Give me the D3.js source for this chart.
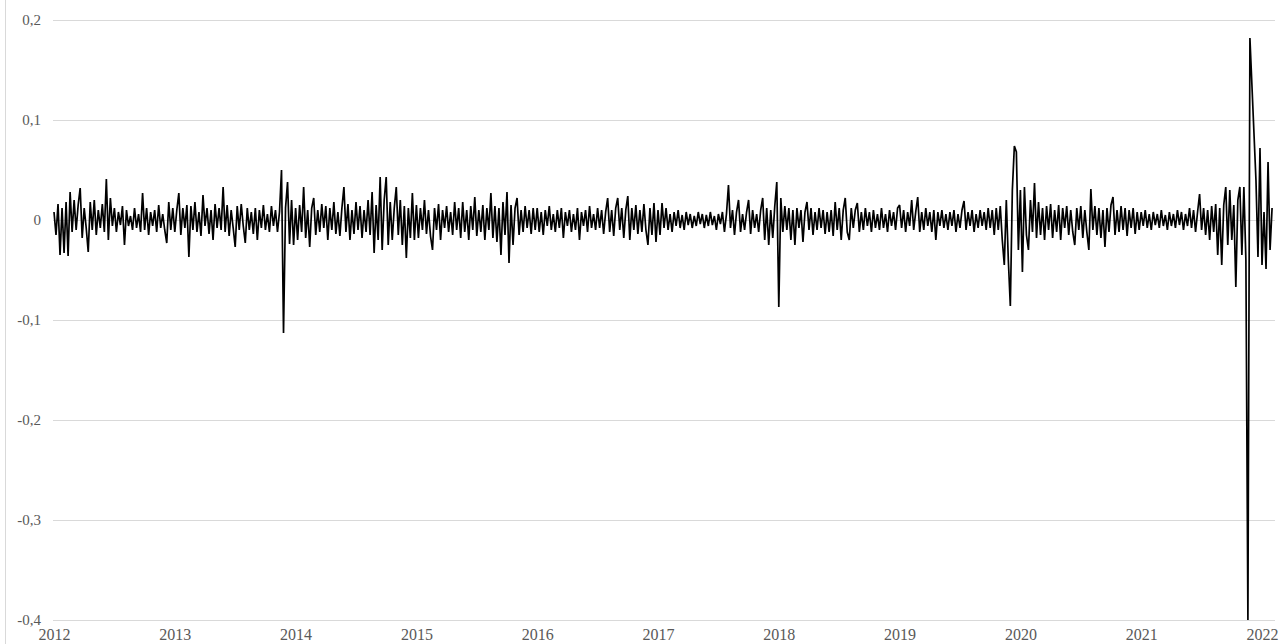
<!DOCTYPE html>
<html><head><meta charset="utf-8">
<script src="https://cdn.jsdelivr.net/npm/d3@7"></script>
<style>body{margin:0;background:#fff}svg{display:block}</style>
</head><body>
<svg id="c" width="1281" height="644"></svg>
<script>
// ---- data (daily returns) ----
const yearLabels = ["2012","2013","2014","2015","2016","2017","2018","2019","2020","2021","2022"];
const pointsPerYear = 60;
const yTicks = [0.2, 0.1, 0, -0.1, -0.2, -0.3, -0.4];

const r2012 = [0.008,-0.015,0.016,-0.035,0.012,-0.033,0.018,-0.036,0.028,-0.012,
 0.02,-0.01,0.015,0.032,-0.018,0.012,-0.008,-0.032,0.018,-0.01,
 0.02,-0.015,0.01,-0.008,0.016,-0.012,0.041,-0.02,0.022,-0.006,
 0.012,-0.012,0.008,-0.005,0.014,-0.025,0.01,-0.006,0.004,-0.01,
 0.012,-0.008,0.006,-0.012,0.027,-0.01,0.012,-0.015,0.008,-0.006,
 0.01,-0.012,0.015,-0.008,0.006,-0.01,-0.023,0.018,-0.01,0.012];
const r2013 = [-0.012,0.01,0.027,-0.015,0.012,-0.008,0.015,-0.037,0.014,-0.01,
 0.018,-0.012,0.008,-0.016,0.025,-0.006,0.012,-0.014,0.01,-0.02,
 0.016,-0.008,0.012,-0.01,0.033,-0.012,0.015,-0.016,0.01,-0.008,
 -0.027,0.014,-0.01,0.016,-0.006,-0.023,0.012,-0.01,0.008,-0.014,
 0.012,-0.02,0.01,-0.008,0.015,-0.01,0.006,-0.012,0.014,-0.006,
 0.01,-0.012,0.008,0.05,-0.113,0.012,0.038,-0.024,0.02,-0.025];
const r2014 = [0.012,-0.02,0.015,-0.012,0.033,-0.018,0.01,-0.027,0.012,0.022,
 -0.015,0.01,-0.012,0.016,-0.008,0.014,-0.02,0.012,-0.01,0.018,
 -0.014,0.008,-0.016,0.012,0.033,-0.012,0.016,-0.02,0.01,-0.014,
 0.018,-0.01,0.014,-0.018,0.01,-0.012,0.02,-0.015,0.028,-0.033,
 0.015,-0.02,0.043,-0.03,0.02,0.043,-0.025,0.018,-0.02,0.012,
 0.033,-0.015,0.02,-0.025,0.014,-0.038,0.012,-0.018,0.027,-0.02];
const r2015 = [0.015,-0.018,0.012,-0.01,0.02,-0.014,0.01,-0.016,-0.03,0.012,
 -0.01,0.016,-0.02,0.01,-0.008,0.014,-0.012,0.008,-0.015,0.018,
 -0.01,0.012,-0.018,0.018,-0.012,0.01,-0.02,0.014,-0.01,0.023,
 -0.016,0.01,-0.012,0.015,-0.02,0.012,-0.01,0.027,-0.018,0.014,
 -0.022,0.012,-0.035,0.018,-0.015,0.028,-0.043,0.015,-0.025,0.012,
 0.022,-0.015,0.01,-0.012,0.014,-0.008,0.01,-0.014,0.012,-0.01];
const r2016 = [0.012,-0.012,0.008,-0.015,0.01,-0.006,0.014,-0.01,0.006,-0.012,
 0.01,-0.008,0.012,-0.018,0.008,-0.006,0.01,-0.012,0.006,-0.01,
 0.012,-0.02,0.008,-0.006,0.01,-0.012,0.014,-0.008,0.006,-0.01,
 0.012,-0.008,0.01,-0.014,0.008,0.022,-0.012,0.01,-0.016,0.012,
 0.022,-0.01,0.012,-0.018,0.01,0.024,-0.02,0.012,-0.01,0.015,
 -0.014,0.01,-0.012,0.016,-0.01,-0.025,0.012,-0.015,0.017,-0.022];
const r2017 = [0.01,-0.015,0.017,-0.008,0.012,-0.01,0.006,-0.012,0.008,-0.006,
 0.01,-0.008,0.005,-0.01,0.008,-0.005,0.006,-0.008,0.004,-0.006,
 0.008,-0.004,0.006,-0.008,0.005,-0.006,0.008,-0.005,0.004,-0.01,
 0.006,-0.004,0.008,-0.012,0.006,0.035,-0.008,0.01,-0.015,0.008,
 0.02,-0.012,0.006,-0.01,0.008,0.02,-0.014,0.01,-0.008,0.006,
 -0.012,0.01,0.022,-0.02,0.012,-0.025,0.01,-0.018,0.014,0.038];
const r2018 = [-0.087,0.022,-0.012,0.014,-0.01,0.012,-0.02,0.01,-0.025,0.012,
 -0.008,0.01,-0.022,0.008,0.018,-0.01,0.012,-0.015,0.008,-0.01,
 0.012,-0.008,0.01,-0.014,0.008,-0.012,0.01,-0.016,0.018,-0.01,
 0.012,-0.02,0.01,0.022,-0.012,-0.02,0.012,-0.008,0.01,0.017,
 -0.012,0.008,-0.01,0.012,-0.006,0.008,-0.012,0.01,-0.008,0.006,
 -0.01,0.012,-0.008,0.006,-0.012,0.01,-0.006,0.008,-0.01,0.012];
const r2019 = [0.015,-0.008,0.01,-0.012,0.008,-0.006,0.02,-0.01,0.008,0.023,
 -0.012,0.008,-0.01,0.012,-0.006,0.008,-0.012,0.01,-0.02,0.008,
 -0.006,0.01,-0.008,0.006,-0.01,0.008,-0.006,0.01,-0.012,0.006,
 -0.008,0.01,0.019,-0.01,0.008,-0.006,0.01,-0.012,0.006,-0.008,
 0.01,-0.006,0.008,-0.01,0.012,-0.008,0.01,-0.015,0.012,-0.01,
 0.014,-0.02,-0.045,0.02,-0.04,-0.086,0.03,0.074,0.068,-0.03];
const r2020 = [0.03,-0.052,0.033,-0.015,-0.03,0.02,-0.012,0.037,-0.018,0.018,
 -0.015,0.012,-0.02,0.014,-0.01,0.016,-0.018,0.01,-0.012,0.015,
 -0.02,0.012,-0.008,0.014,-0.015,0.01,-0.012,-0.025,0.012,-0.01,
 0.014,-0.018,0.01,-0.012,-0.03,0.031,-0.01,0.014,-0.015,0.012,
 -0.018,0.01,-0.027,0.012,-0.012,0.015,0.023,-0.015,0.01,-0.012,
 0.014,-0.01,0.012,-0.016,0.01,-0.008,0.012,-0.014,0.008,-0.01];
const r2021 = [0.008,-0.006,0.01,-0.008,0.006,-0.01,0.008,-0.005,0.006,-0.008,
 0.01,-0.006,0.005,-0.01,0.008,-0.006,0.006,-0.008,0.01,-0.005,
 0.008,-0.01,0.006,-0.006,0.012,-0.008,0.01,-0.012,0.008,0.026,
 -0.01,0.012,-0.015,0.01,-0.02,0.014,-0.012,0.016,-0.035,0.012,
 -0.045,0.015,0.033,-0.025,0.03,-0.02,0.015,-0.067,0.02,0.033,
 -0.035,0.033,-0.04,-0.4,0.182];
// after a gap in the dates
const tailStart = 597;
const rTail = [0.04,-0.037,0.072,-0.045,0.008,-0.049,0.058,-0.03,0.012];

// ---- build ----
const series = [];
[r2012,r2013,r2014,r2015,r2016,r2017,r2018,r2019,r2020,r2021].flat()
  .forEach((v,i) => series.push({i, v}));
rTail.forEach((v,k) => series.push({i: tailStart + k, v}));

const svg = d3.select("#c");
const x = d3.scaleLinear().domain([0, pointsPerYear*10]).range([54, 1262]);
const y = d3.scaleLinear().domain([-0.4, 0.2]).range([620, 20]);

const loc = d3.formatLocale({decimal: ",", thousands: " ", grouping: [3], currency: ["", ""], minus: "-"});
const fmt = v => v === 0 ? "0" : loc.format(".1f")(v);

// frame line at left
svg.append("line").attr("x1", 5.5).attr("x2", 5.5).attr("y1", 0).attr("y2", 644)
  .attr("stroke", "#d9d9d9").attr("stroke-width", 1);

// gridlines
svg.append("g").selectAll("line").data(yTicks).join("line")
  .attr("x1", 53).attr("x2", 1275)
  .attr("y1", d => Math.round(y(d)) + 0.5).attr("y2", d => Math.round(y(d)) + 0.5)
  .attr("stroke", "#d9d9d9").attr("stroke-width", 1);

// y axis labels
const yAxis = d3.axisLeft(y).tickValues(yTicks).tickFormat(fmt).tickSize(0).tickPadding(0);
const gy = svg.append("g").attr("transform", "translate(41,0)").call(yAxis);
gy.select(".domain").remove();
gy.selectAll("text").attr("font-family", "'Liberation Serif','Times New Roman',serif")
  .attr("font-size", 15).attr("fill", "#595959");

// x axis labels
const xAxis = d3.axisBottom(x).tickValues(yearLabels.map((d,k) => k*pointsPerYear))
  .tickFormat((d,k) => yearLabels[k]).tickSize(0).tickPadding(0);
const gx = svg.append("g").attr("transform", "translate(0,629)").call(xAxis);
gx.select(".domain").remove();
gx.selectAll("text").attr("font-family", "'Liberation Serif','Times New Roman',serif")
  .attr("font-size", 16).attr("fill", "#595959");

// series line
const line = d3.line().x(d => x(d.i)).y(d => y(d.v));
svg.append("path").datum(series).attr("d", line)
  .attr("fill", "none").attr("stroke", "#000").attr("stroke-width", 1.7)
  .attr("stroke-linejoin", "miter").attr("stroke-miterlimit", 2);
</script>
</body></html>
